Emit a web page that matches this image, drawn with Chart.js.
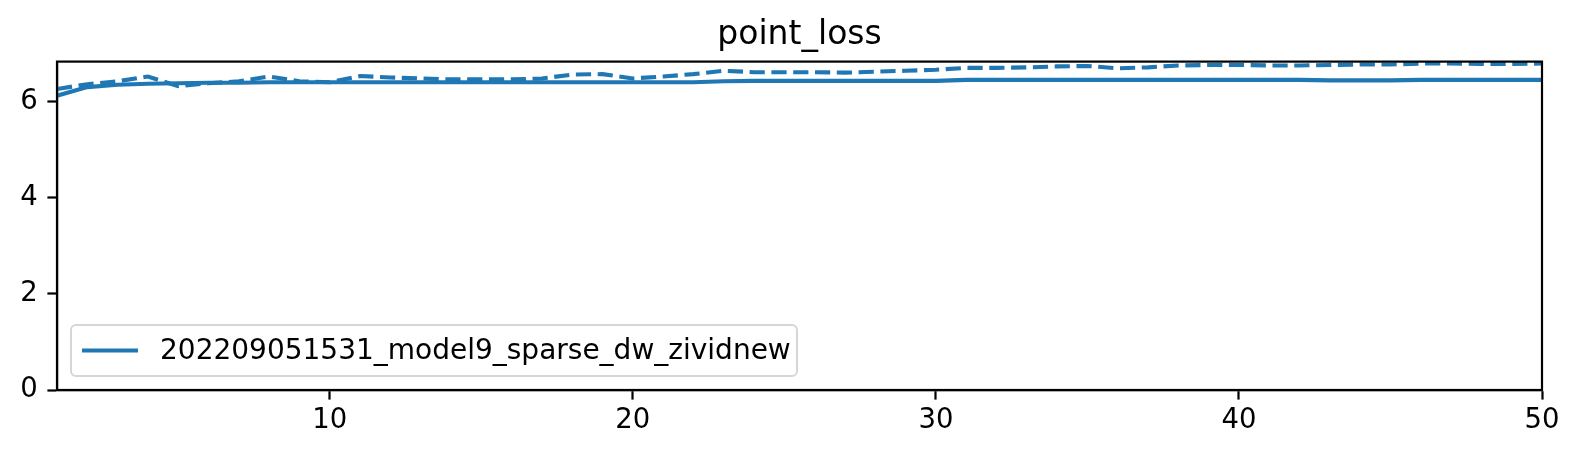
<!DOCTYPE html>
<html>
<head>
<meta charset="utf-8">
<script src="https://cdn.jsdelivr.net/npm/chart.js@4.4.1/dist/chart.umd.min.js"></script>
<style>
  html, body { margin: 0; padding: 0; background: #fff; }
  #wrap { width: 1581px; height: 457px; }
</style>
</head>
<body>
<div id="wrap"><canvas id="lossChart" width="1581" height="457"></canvas></div>
<script>
// epochs on the x axis
const epochs = Array.from({ length: 50 }, (_, i) => i + 1);

// solid line (train)
const trainLoss = [
    6.12, 6.30, 6.35, 6.37, 6.38, 6.39, 6.39, 6.40, 6.40, 6.40,
    6.40, 6.40, 6.40, 6.40, 6.40, 6.40, 6.40, 6.40, 6.40, 6.40,
    6.40, 6.40, 6.42, 6.43, 6.43, 6.43, 6.43, 6.43, 6.43, 6.43,
    6.45, 6.45, 6.45, 6.45, 6.45, 6.45, 6.45, 6.45, 6.45, 6.45,
    6.45, 6.45, 6.44, 6.44, 6.44, 6.45, 6.45, 6.45, 6.45, 6.45
];

// dashed line (validation)
const valLoss = [
    6.26, 6.36, 6.42, 6.52, 6.32, 6.38, 6.42, 6.52, 6.42, 6.40,
    6.53, 6.50, 6.48, 6.46, 6.46, 6.46, 6.48, 6.56, 6.57, 6.48,
    6.52, 6.57, 6.64, 6.61, 6.61, 6.61, 6.60, 6.62, 6.64, 6.66,
    6.70, 6.70, 6.71, 6.73, 6.74, 6.69, 6.71, 6.75, 6.76, 6.76,
    6.75, 6.75, 6.76, 6.77, 6.77, 6.79, 6.79, 6.78, 6.78, 6.79
];

const yTicks = [0, 2, 4, 6];
const xTicks = [10, 20, 30, 40, 50];
const runName = '202209051531_model9_sparse_dw_zividnew';
const chartTitle = 'point_loss';

const BLUE = '#1f77b4';
const FONT = '"DejaVu Sans", sans-serif';

// matplotlib-like frame around the plot area
const framePlugin = {
    id: 'frame',
    afterDatasetsDraw(chart) {
        const { ctx, chartArea: a } = chart;
        ctx.save();
        ctx.strokeStyle = '#000';
        ctx.lineWidth = 2.2;
        ctx.strokeRect(a.left, a.top, a.right - a.left, a.bottom - a.top);
        ctx.restore();
    }
};

// legend box in the lower left corner, only the first dataset
const legendPlugin = {
    id: 'boxLegend',
    afterDraw(chart) {
        const { ctx, chartArea: a } = chart;
        const ds = chart.data.datasets[0];
        const x = a.left + 14, w = 726, h = 51;
        const y = a.bottom - 14 - h;
        ctx.save();
        ctx.beginPath();
        ctx.roundRect(x, y, w, h, 5);
        ctx.fillStyle = 'rgba(255,255,255,0.8)';
        ctx.fill();
        ctx.strokeStyle = '#d6d6d6';
        ctx.lineWidth = 2;
        ctx.stroke();
        const cy = y + h / 2;
        ctx.beginPath();
        ctx.moveTo(x + 11, cy);
        ctx.lineTo(x + 67, cy);
        ctx.strokeStyle = ds.borderColor;
        ctx.lineWidth = ds.borderWidth;
        ctx.stroke();
        ctx.fillStyle = '#000';
        ctx.font = '28px ' + FONT;
        ctx.textBaseline = 'middle';
        ctx.fillText(ds.label, x + 89, cy + 1);
        ctx.restore();
    }
};

const tickFont = { family: FONT, size: 27.5 };
const axisGrid = { drawOnChartArea: false, drawTicks: true, tickLength: 9.6, tickWidth: 2.2, tickColor: '#000' };

new Chart(document.getElementById('lossChart'), {
    type: 'line',
    data: {
        labels: epochs,
        datasets: [
            {
                label: runName,
                data: epochs.map((e, i) => ({ x: e, y: trainLoss[i] })),
                borderColor: BLUE,
                borderWidth: 4.1,
                pointRadius: 0,
                tension: 0,
                fill: false
            },
            {
                label: runName + ' (val)',
                data: epochs.map((e, i) => ({ x: e, y: valLoss[i] })),
                borderColor: BLUE,
                borderWidth: 4.1,
                borderDash: [15.2, 6.6],
                borderCapStyle: 'butt',
                pointRadius: 0,
                tension: 0,
                fill: false
            }
        ]
    },
    options: {
        responsive: false,
        animation: false,
        layout: { padding: { left: 0, right: 39, top: 0, bottom: 0 } },
        plugins: {
            legend: { display: false },
            tooltip: { enabled: false },
            title: {
                display: true,
                fullSize: false,
                text: chartTitle,
                color: '#000',
                font: { family: FONT, size: 33, weight: 'normal' },
                padding: { top: 16, bottom: 6 }
            }
        },
        scales: {
            x: {
                type: 'linear',
                min: 1,
                max: 50,
                afterFit: (s) => { s.height = 67; },
                afterBuildTicks: (s) => { s.ticks = xTicks.map(v => ({ value: v })); },
                grid: axisGrid,
                border: { display: true, color: '#000', width: 2.2 },
                ticks: { color: '#000', font: tickFont, padding: 5, maxRotation: 0 }
            },
            y: {
                min: 0,
                max: 6.83,
                afterFit: (s) => { s.width = 57; },
                afterBuildTicks: (s) => { s.ticks = yTicks.map(v => ({ value: v })); },
                grid: axisGrid,
                border: { display: true, color: '#000', width: 2.2 },
                ticks: { color: '#000', font: tickFont, padding: 9.6 }
            }
        }
    },
    plugins: [framePlugin, legendPlugin]
});
</script>
</body>
</html>
